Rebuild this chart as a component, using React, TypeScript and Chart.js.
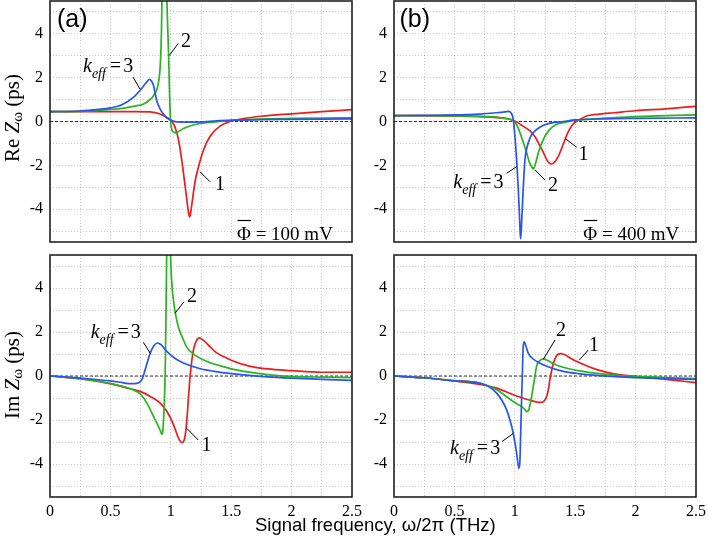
import React, { useEffect, useRef } from "react";
import { Chart, registerables } from "chart.js";

Chart.register(...registerables);

// ---------- tick labels / grid ----------
const xGridTicks = [0, 0.25, 0.5, 0.75, 1, 1.25, 1.5, 1.75, 2, 2.25, 2.5];
const xTickLabels = ["0", "0.5", "1", "1.5", "2", "2.5"];
const yGridTicks = [-5, -4, -3, -2, -1, 0, 1, 2, 3, 4, 5];
const yTickLabels = ["-4", "-2", "0", "2", "4"];

const zeroX = [0, 2.5];
const zeroY = [0, 0];

// ---------- panel (a) Re Z ----------
const reA1X = [0, 0.25, 0.5, 0.7, 0.83, 0.912, 0.967, 1.008, 1.05, 1.078, 1.105, 1.133, 1.145, 1.155, 1.165, 1.175, 1.203, 1.23, 1.272, 1.327, 1.41, 1.49, 1.6, 1.75, 2.0, 2.25, 2.5];
const reA1Y = [0.45, 0.45, 0.45, 0.45, 0.44, 0.34, 0.18, 0.03, -0.51, -1.28, -2.36, -3.59, -4.1, -4.36, -4.15, -3.74, -2.67, -2.05, -1.28, -0.66, -0.2, 0.0, 0.13, 0.24, 0.35, 0.45, 0.54];
const reA2X = [0, 0.25, 0.5, 0.6, 0.7, 0.775, 0.82, 0.86, 0.9, 0.915, 0.924, 0.93, 0.96, 0.967, 0.975, 0.982, 0.99, 0.997, 1.008, 1.02, 1.036, 1.06, 1.105, 1.17, 1.244, 1.4, 1.6, 1.8, 2.0, 2.25, 2.5];
const reA2Y = [0.45, 0.46, 0.55, 0.6, 0.7, 0.8, 0.97, 1.2, 1.85, 2.8, 4.5, 7, 7, 5.6, 4.2, 3.0, 1.2, 0.1, -0.36, -0.47, -0.52, -0.47, -0.32, -0.18, -0.09, 0.0, 0.08, 0.12, 0.14, 0.16, 0.17];
const reA3X = [0, 0.25, 0.4, 0.5, 0.6, 0.7, 0.75, 0.8, 0.823, 0.84, 0.857, 0.87, 0.884, 0.912, 0.939, 0.967, 0.995, 1.05, 1.2, 1.35, 1.5, 1.75, 2.0, 2.5];
const reA3Y = [0.45, 0.48, 0.55, 0.62, 0.78, 1.15, 1.45, 1.8, 1.92, 1.85, 1.64, 1.3, 0.95, 0.57, 0.34, 0.17, 0.07, -0.02, -0.03, 0.02, 0.06, 0.09, 0.1, 0.12];

// ---------- panel (b) Re Z ----------
const reB1X = [0, 0.25, 0.5, 0.8, 0.9, 0.987, 1.05, 1.126, 1.17, 1.21, 1.24, 1.264, 1.285, 1.305, 1.33, 1.36, 1.39, 1.416, 1.44, 1.47, 1.51, 1.55, 1.6, 1.7, 1.82, 2.0, 2.25, 2.5];
const reB1Y = [0.27, 0.27, 0.25, 0.2, 0.15, 0.06, -0.15, -0.43, -0.72, -1.13, -1.45, -1.74, -1.9, -1.94, -1.85, -1.59, -1.2, -0.82, -0.5, -0.2, 0.0, 0.13, 0.26, 0.34, 0.4, 0.49, 0.58, 0.69];
const reB2X = [0, 0.25, 0.5, 0.7, 0.85, 0.95, 0.987, 1.02, 1.043, 1.07, 1.098, 1.12, 1.14, 1.153, 1.17, 1.195, 1.236, 1.29, 1.34, 1.4, 1.5, 1.75, 2.0, 2.25, 2.5];
const reB2Y = [0.27, 0.27, 0.26, 0.24, 0.2, 0.12, 0.03, -0.2, -0.51, -0.95, -1.43, -1.85, -2.08, -2.16, -1.95, -1.43, -0.82, -0.36, -0.15, -0.05, 0.05, 0.15, 0.22, 0.27, 0.3];
const reB3X = [0, 0.25, 0.5, 0.7, 0.85, 0.92, 0.946, 0.965, 0.987, 1.0, 1.015, 1.028, 1.037, 1.043, 1.048, 1.055, 1.065, 1.075, 1.084, 1.1, 1.13, 1.167, 1.21, 1.264, 1.33, 1.4, 1.5, 1.75, 2.0, 2.5];
const reB3Y = [0.27, 0.28, 0.3, 0.34, 0.4, 0.44, 0.46, 0.42, 0.1, -0.6, -1.74, -3.0, -4.05, -4.9, -5.36, -4.8, -3.6, -2.5, -1.74, -1.2, -0.7, -0.43, -0.25, -0.12, -0.04, 0.0, 0.07, 0.12, 0.14, 0.17];

// ---------- panel (a) Im Z ----------
const imA1X = [0, 0.25, 0.5, 0.663, 0.746, 0.83, 0.912, 0.967, 1.023, 1.064, 1.08, 1.092, 1.105, 1.116, 1.125, 1.133, 1.147, 1.16, 1.175, 1.19, 1.21, 1.235, 1.27, 1.33, 1.38, 1.45, 1.52, 1.65, 1.8, 2.0, 2.25, 2.5];
const imA1Y = [0, -0.12, -0.35, -0.58, -0.7, -0.93, -1.23, -1.6, -2.22, -2.83, -2.98, -3.03, -2.98, -2.8, -2.45, -2.0, -0.93, 0.0, 0.75, 1.25, 1.58, 1.73, 1.62, 1.3, 1.05, 0.85, 0.67, 0.45, 0.32, 0.24, 0.17, 0.17];
const imA2X = [0, 0.25, 0.5, 0.663, 0.746, 0.802, 0.857, 0.898, 0.918, 0.926, 0.934, 0.94, 0.948, 0.954, 0.96, 0.966, 0.975, 0.992, 0.998, 1.01, 1.023, 1.036, 1.064, 1.1, 1.133, 1.2, 1.3, 1.4, 1.52, 1.8, 2.0, 2.25, 2.5];
const imA2Y = [0, -0.12, -0.35, -0.58, -0.81, -1.23, -1.84, -2.3, -2.55, -2.65, -2.5, -2.0, -0.93, 0.29, 2.7, 5.6, 8, 8, 5.6, 4.1, 3.4, 2.9, 2.2, 1.7, 1.3, 0.95, 0.66, 0.48, 0.3, 0.06, -0.02, -0.05, -0.07];
const imA3X = [0, 0.25, 0.5, 0.6, 0.663, 0.7, 0.76, 0.788, 0.83, 0.86, 0.89, 0.92, 0.967, 1.03, 1.105, 1.244, 1.4, 1.52, 1.8, 2.0, 2.25, 2.5];
const imA3Y = [0, -0.1, -0.22, -0.3, -0.35, -0.35, -0.17, 0.29, 1.05, 1.38, 1.5, 1.42, 1.12, 0.82, 0.59, 0.33, 0.18, 0.1, -0.04, -0.1, -0.15, -0.2];

// ---------- panel (b) Im Z ----------
const imB1X = [0, 0.25, 0.5, 0.71, 0.85, 0.987, 1.126, 1.21, 1.24, 1.264, 1.28, 1.29, 1.305, 1.32, 1.347, 1.38, 1.42, 1.457, 1.54, 1.68, 1.82, 2.0, 2.25, 2.5];
const imB1Y = [0, -0.08, -0.22, -0.38, -0.55, -0.85, -1.1, -1.2, -1.15, -0.93, -0.55, -0.17, 0.25, 0.59, 0.93, 1.02, 0.95, 0.82, 0.59, 0.29, 0.1, -0.02, -0.15, -0.3];
const imB2X = [0, 0.25, 0.5, 0.71, 0.85, 0.987, 1.056, 1.08, 1.098, 1.115, 1.126, 1.14, 1.153, 1.167, 1.18, 1.21, 1.236, 1.28, 1.32, 1.4, 1.457, 1.55, 1.68, 1.85, 2.0, 2.25, 2.5];
const imB2Y = [0, -0.08, -0.22, -0.32, -0.63, -1.16, -1.39, -1.5, -1.62, -1.55, -1.31, -0.9, -0.47, 0.0, 0.44, 0.71, 0.78, 0.68, 0.56, 0.4, 0.32, 0.22, 0.12, 0.03, -0.02, -0.07, -0.12];
const imB3X = [0, 0.25, 0.5, 0.71, 0.85, 0.932, 0.987, 1.015, 1.034, 1.042, 1.048, 1.055, 1.062, 1.07, 1.078, 1.09, 1.11, 1.14, 1.18, 1.264, 1.4, 1.54, 1.8, 2.0, 2.25, 2.5];
const imB3Y = [0, -0.08, -0.22, -0.32, -0.78, -1.54, -2.6, -3.5, -4.2, -3.9, -2.76, -1.3, 0.0, 1.35, 1.55, 1.4, 1.05, 0.83, 0.67, 0.44, 0.21, 0.1, -0.02, -0.07, -0.12, -0.15];

// ---------- styles ----------
const RED = "rgb(236,28,28)";
const GREEN = "rgb(40,180,30)";
const BLUE = "rgb(40,85,240)";
const GRID = "rgba(0,0,0,0.2)";
const SERIF = '"Liberation Serif", "Times New Roman", serif';
const SANS = '"Liberation Sans", Arial, Helvetica, sans-serif';

type Part = { t: string; font: string; dy?: number; dx?: number };
type Ann =
  | { kind: "rich"; x: number; y: number; parts: Part[]; rotate?: boolean }
  | { kind: "line"; x1: number; y1: number; x2: number; y2: number; w?: number };

const f20 = `20px ${SERIF}`;
const keff = (x: number, y: number): Ann => ({
  kind: "rich",
  x,
  y,
  parts: [
    { t: "k", font: `italic 20px ${SERIF}` },
    { t: "eff", font: `italic 14px ${SERIF}`, dy: 6 },
    { t: "=", font: f20, dx: 4 },
    { t: "3", font: f20, dx: 2 },
  ],
});
const num = (t: string, x: number, y: number): Ann => ({ kind: "rich", x, y, parts: [{ t, font: f20 }] });
const line = (x1: number, y1: number, x2: number, y2: number): Ann => ({ kind: "line", x1, y1, x2, y2 });
const phi = (x: number, y: number, v: string): Ann[] => [
  { kind: "rich", x, y, parts: [{ t: "Φ", font: `19px ${SERIF}` }, { t: ` = ${v} mV`, font: `19px ${SERIF}` }] },
  { kind: "line", x1: x + 0.5, y1: y - 19.5, x2: x + 14, y2: y - 19.5, w: 1.2 },
];
const label = (t: string, x: number, y: number): Ann => ({ kind: "rich", x, y, parts: [{ t, font: `25px ${SANS}` }] });
const ytitle = (pre: string, y: number): Ann => ({
  kind: "rich",
  x: 18.5,
  y,
  rotate: true,
  parts: [
    { t: pre + " ", font: `21px ${SERIF}` },
    { t: "Z", font: `italic 21px ${SERIF}` },
    { t: "ω", font: `15px ${SERIF}`, dy: 3 },
    { t: " (ps)", font: `21px ${SERIF}` },
  ],
});

function richWidth(ctx: CanvasRenderingContext2D, parts: Part[]) {
  let w = 0;
  for (const p of parts) {
    ctx.font = p.font;
    w += (p.dx || 0) + ctx.measureText(p.t).width;
  }
  return w;
}
function drawRich(ctx: CanvasRenderingContext2D, parts: Part[], x: number, y: number) {
  let cx = x;
  for (const p of parts) {
    ctx.font = p.font;
    cx += p.dx || 0;
    ctx.fillText(p.t, cx, y + (p.dy || 0));
    cx += ctx.measureText(p.t).width;
  }
}

type Series = { xs: number[]; ys: number[]; color: string };
type Panel = {
  series: Series[];
  pad: { left: number; top: number; right: number; bottom: number };
  yWidth: number;
  xHeight: number;
  showX: boolean;
  anns: Ann[];
};

const panels: Panel[] = [
  {
    series: [
      { xs: reA3X, ys: reA3Y, color: BLUE },
      { xs: reA2X, ys: reA2Y, color: GREEN },
      { xs: reA1X, ys: reA1Y, color: RED },
    ],
    pad: { left: 0, top: 1, right: 356, bottom: 278 },
    yWidth: 50,
    xHeight: 20,
    showX: false,
    anns: [
      label("(a)", 57, 27),
      keff(83, 71.5),
      line(133, 77, 140, 89),
      num("2", 181, 46.5),
      line(169.3, 55.5, 178.3, 43.3),
      num("1", 215, 190),
      line(200, 171.7, 210, 181.7),
      ...phi(237, 240, "100"),
      ytitle("Re", 118),
    ],
  },
  {
    series: [
      { xs: reB3X, ys: reB3Y, color: BLUE },
      { xs: reB2X, ys: reB2Y, color: GREEN },
      { xs: reB1X, ys: reB1Y, color: RED },
    ],
    pad: { left: 360, top: 1, right: 12, bottom: 278 },
    yWidth: 34,
    xHeight: 20,
    showX: false,
    anns: [
      label("(b)", 399.5, 27),
      keff(453.3, 188),
      line(506.7, 173.3, 517, 166.3),
      num("2", 548, 191),
      line(535, 170, 545, 180),
      num("1", 578.5, 160),
      line(565, 138.3, 576.7, 147.3),
      ...phi(583.3, 240, "400"),
    ],
  },
  {
    series: [
      { xs: imA3X, ys: imA3Y, color: BLUE },
      { xs: imA2X, ys: imA2Y, color: GREEN },
      { xs: imA1X, ys: imA1Y, color: RED },
    ],
    pad: { left: 0, top: 255, right: 356, bottom: 13 },
    yWidth: 50,
    xHeight: 30,
    showX: true,
    anns: [
      keff(90.7, 337.5),
      line(143.3, 342.3, 151, 354.3),
      num("2", 187, 302),
      line(175, 313.3, 184, 301.7),
      num("1", 201.5, 450.5),
      line(186.7, 428.3, 198.3, 440),
      ytitle("Im", 375),
      {
        kind: "rich",
        x: 255,
        y: 531,
        parts: [{ t: "Signal frequency, ω/2π (THz)", font: `18.5px ${SANS}` }],
      },
    ],
  },
  {
    series: [
      { xs: imB3X, ys: imB3Y, color: BLUE },
      { xs: imB2X, ys: imB2Y, color: GREEN },
      { xs: imB1X, ys: imB1Y, color: RED },
    ],
    pad: { left: 360, top: 255, right: 12, bottom: 13 },
    yWidth: 34,
    xHeight: 30,
    showX: true,
    anns: [
      keff(450, 454),
      line(502, 441.5, 513.5, 433.3),
      num("2", 556, 336),
      line(543.3, 359.3, 555, 340),
      num("1", 589, 351),
      line(579.3, 360, 588.3, 350),
    ],
  },
];

function xLabel(v: number) {
  const k = Math.round(v * 2);
  return Math.abs(v * 2 - k) < 1e-6 ? xTickLabels[k] ?? "" : "";
}
function yLabel(v: number) {
  const r = Math.round(v);
  if (Math.abs(v - r) > 1e-6 || r % 2 !== 0 || Math.abs(r) > 4) return "";
  return yTickLabels[(r + 4) / 2];
}

function PanelChart({ p }: { p: Panel }) {
  const ref = useRef<HTMLCanvasElement | null>(null);
  useEffect(() => {
    if (!ref.current) return;
    const annPlugin = {
      id: "ann",
      afterDatasetsDraw(chart: any) {
        const { ctx, chartArea: a } = chart;
        ctx.save();
        ctx.strokeStyle = "#222";
        ctx.lineWidth = 1.6;
        ctx.strokeRect(a.left, a.top, a.right - a.left, a.bottom - a.top);
        ctx.restore();
      },
      afterDraw(chart: any) {
        const ctx: CanvasRenderingContext2D = chart.ctx;
        ctx.save();
        ctx.fillStyle = "#000";
        ctx.strokeStyle = "#000";
        ctx.textBaseline = "alphabetic";
        ctx.textAlign = "left";
        for (const an of p.anns) {
          if (an.kind === "line") {
            ctx.lineWidth = an.w ?? 1;
            ctx.beginPath();
            ctx.moveTo(an.x1, an.y1);
            ctx.lineTo(an.x2, an.y2);
            ctx.stroke();
          } else if (an.rotate) {
            const w = richWidth(ctx, an.parts);
            ctx.save();
            ctx.translate(an.x, an.y);
            ctx.rotate(-Math.PI / 2);
            drawRich(ctx, an.parts, -w / 2, 0);
            ctx.restore();
          } else {
            drawRich(ctx, an.parts, an.x, an.y);
          }
        }
        ctx.restore();
      },
    };
    const datasets: any[] = p.series.map((s) => ({
      data: s.xs.map((x, i) => ({ x, y: s.ys[i] })),
      borderColor: s.color,
      borderWidth: 1.7,
      pointRadius: 0,
      cubicInterpolationMode: "monotone",
      fill: false,
      clip: 0,
    }));
    datasets.push({
      data: zeroX.map((x, i) => ({ x, y: zeroY[i] })),
      borderColor: "#000",
      borderWidth: 0.8,
      borderDash: [3, 2],
      pointRadius: 0,
      fill: false,
    });
    const chart = new Chart(ref.current, {
      type: "line",
      data: { datasets },
      plugins: [annPlugin],
      options: {
        animation: false,
        responsive: false,
        maintainAspectRatio: false,
        events: [],
        layout: { padding: p.pad },
        plugins: { legend: { display: false }, tooltip: { enabled: false } },
        scales: {
          x: {
            type: "linear",
            min: 0,
            max: 2.5,
            afterBuildTicks: (s: any) => {
              s.ticks = xGridTicks.map((v) => ({ value: v }));
            },
            afterFit: (s: any) => {
              s.height = p.xHeight;
              s.paddingLeft = 0;
              s.paddingRight = 0;
            },
            ticks: {
              display: p.showX,
              autoSkip: false,
              maxRotation: 0,
              padding: 5,
              color: "#000",
              font: { family: SERIF, size: 16 },
              callback: (v: any) => xLabel(Number(v)),
            },
            grid: { color: GRID, lineWidth: 1, drawTicks: false },
            border: { display: false, dash: [1, 2] },
          },
          y: {
            type: "linear",
            min: -5.5,
            max: 5.5,
            afterBuildTicks: (s: any) => {
              s.ticks = yGridTicks.map((v) => ({ value: v }));
            },
            afterFit: (s: any) => {
              s.width = p.yWidth;
              s.paddingTop = 0;
              s.paddingBottom = 0;
            },
            ticks: {
              autoSkip: false,
              padding: 7,
              color: "#000",
              font: { family: SERIF, size: 16 },
              callback: (v: any) => yLabel(Number(v)),
            },
            grid: { color: GRID, lineWidth: 1, drawTicks: false },
            border: { display: false, dash: [1, 2] },
          },
        },
      } as any,
    });
    return () => chart.destroy();
  }, [p]);
  return (
    <canvas
      ref={ref}
      width={708}
      height={540}
      style={{ position: "absolute", left: 0, top: 0, width: 708, height: 540 }}
    />
  );
}

export default function App() {
  return (
    <div style={{ position: "absolute", left: 0, top: 0, width: 708, height: 540, background: "#fff", overflow: "hidden" }}>
      {panels.map((p, i) => (
        <PanelChart key={i} p={p} />
      ))}
    </div>
  );
}
